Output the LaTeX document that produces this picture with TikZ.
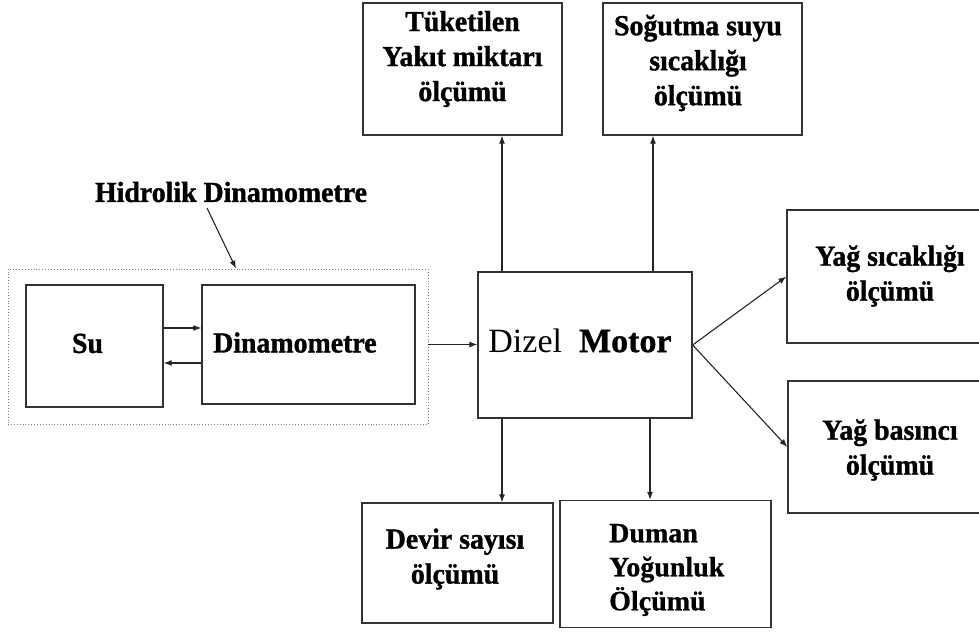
\documentclass[tikz,border=0pt]{standalone}
\usepackage{fontspec}
\setmainfont{Liberation Serif}
\newfontfamily\cond[FakeStretch=0.96,BoldFeatures={FakeBold=1.2}]{Liberation Serif}
\newfontfamily\heavy[BoldFeatures={FakeBold=0.8}]{Liberation Serif}
\usetikzlibrary{arrows.meta}
\begin{document}
\begin{tikzpicture}[x=1pt,y=-1pt,
  box/.style={draw=black!80,line width=1.3pt,inner sep=0pt},
  arr/.style={-{Latex[length=8pt,width=6pt]},line width=1.1pt,draw=black!85},
  lbl/.style={font=\cond\bfseries\fontsize{29}{35}\selectfont,align=center,inner sep=0pt},
  cont/.style={draw=black!50,dotted,line width=0.9pt}]
\useasboundingbox (0,0) rectangle (979,634);
% boxes
\node[box,minimum width=199pt,minimum height=132pt] (tuk) at (462.5,69) {};
\node[box,minimum width=199pt,minimum height=132pt] (sog) at (702.5,69) {};
\node[box,minimum width=214pt,minimum height=146pt] (dizel) at (585,345) {};
\node[box,minimum width=206pt,minimum height=133pt] (yagS) at (890,276.5) {};
\node[box,minimum width=206pt,minimum height=132pt] (yagB) at (891,447) {};
\node[box,minimum width=191pt,minimum height=120pt] (devir) at (457.5,563) {};
\node[box,minimum width=211pt,minimum height=127pt] (duman) at (665.5,564) {};
\node[cont,minimum width=420pt,minimum height=155pt,inner sep=0pt] (cont) at (218,346.5) {};
\node[box,minimum width=137pt,minimum height=122pt] (su) at (94.5,346) {};
\node[box,minimum width=213pt,minimum height=119pt] (dinam) at (308.5,344.5) {};
% texts
\node[lbl] (tukT) at (462.5,59) {Tüketilen\\Yakıt miktarı\\ölçümü};
\node[lbl] (sogT) at (698,63) {Soğutma suyu\\sıcaklığı\\ölçümü};
\node[lbl] (yagST) at (890,276) {Yağ sıcaklığı\\ölçümü};
\node[lbl] (yagBT) at (890,450) {Yağ basıncı\\ölçümü};
\node[lbl] (devirT) at (455,559) {Devir sayısı\\ölçümü};
\node[font=\heavy\bfseries\fontsize{28}{34}\selectfont,align=left,inner sep=0pt,anchor=west] (dumanT) at (609,570) {Duman\\Yoğunluk\\Ölçümü};
\node[lbl] (suT) at (87.5,343.5) {Su};
\node[lbl,anchor=west] (dinamT) at (213,342.5) {Dinamometre};
\node[inner sep=0pt,font=\heavy\fontsize{34}{40}\selectfont] (dizelT) at (580,340.5) {Dizel\ \ \textbf{Motor}};
\node[lbl] (hid) at (231,192) {Hidrolik Dinamometre};
% connectors
\coordinate (hs) at (207,208);
\draw[arr] (hs) -- (cont.north -| 236,0);
\draw[arr] (su.east |- 0,328) -- (dinam.west |- 0,328);
\draw[arr] (dinam.west |- 0,363) -- (su.east |- 0,363);
\draw[arr] (cont.east |- dinam.center) -- (dizel.west |- dinam.center);
\draw[arr] (dizel.north -| 502,0) -- (tuk.south -| 502,0);
\draw[arr] (dizel.north -| 653,0) -- (sog.south -| 653,0);
\draw[arr] (dizel.south -| 502,0) -- (devir.north -| 502,0);
\draw[arr] (dizel.south -| 650,0) -- (duman.north -| 650,0);
\draw[arr] (dizel.east) -- (yagS.west);
\draw[arr] (dizel.east) -- (yagB.west);
\end{tikzpicture}
\end{document}
